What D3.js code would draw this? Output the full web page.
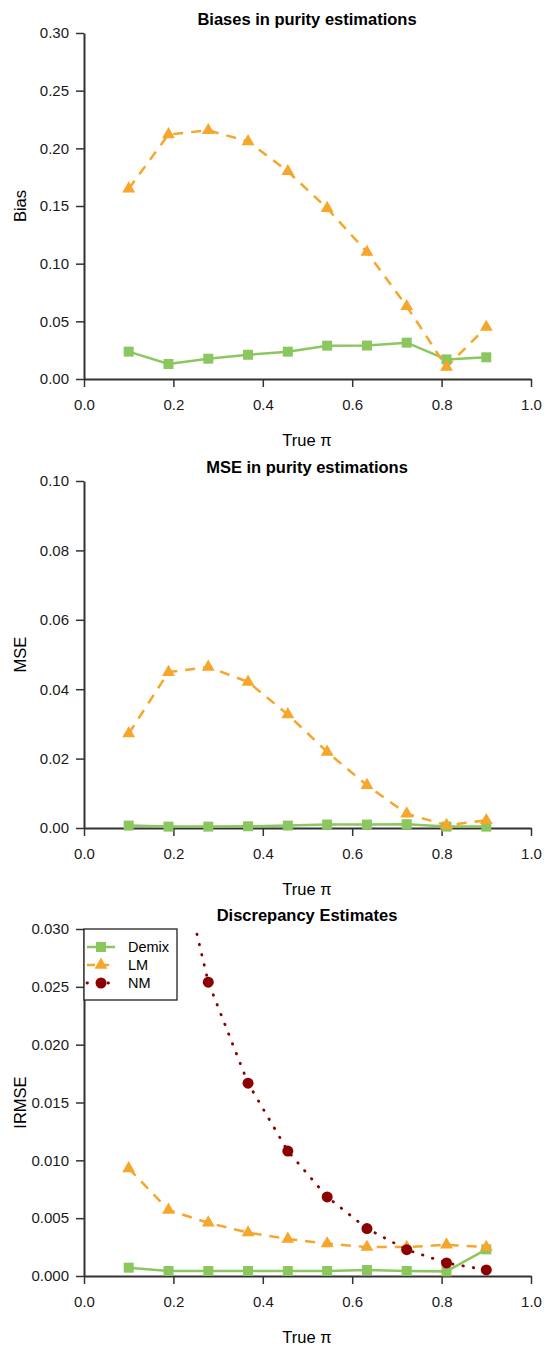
<!DOCTYPE html>
<html>
<head>
<meta charset="utf-8">
<script src="https://cdn.jsdelivr.net/npm/d3@7"></script>
<style>
  body { margin: 0; background: #fff; }
  svg { display: block; font-family: "Liberation Sans", Arial, sans-serif; }
</style>
</head>
<body>
<div id="chart"></div>
<script>
// true purity values
const truePi = [0.1, 0.189, 0.278, 0.367, 0.456, 0.544, 0.633, 0.722, 0.811, 0.9];

// panel 1: bias
const biasDemix = [0.0237, 0.0130, 0.0176, 0.0210, 0.0237, 0.0289, 0.0290, 0.0315, 0.0170, 0.0188];
const biasLM = [0.165, 0.212, 0.2156, 0.206, 0.180, 0.148, 0.110, 0.063, 0.0104, 0.045];

// panel 2: MSE
const mseDemix = [0.0007, 0.0004, 0.0004, 0.0005, 0.0007, 0.0010, 0.0010, 0.0011, 0.0004, 0.0004];
const mseLM = [0.0272, 0.0449, 0.0464, 0.0421, 0.0327, 0.0219, 0.0123, 0.0041, 0.0008, 0.0022];

// panel 3: IRMSE
const irmseDemix = [0.00072, 0.00043, 0.00043, 0.00043, 0.00043, 0.00043, 0.00052, 0.00043, 0.00040, 0.0023];
const irmseLM = [0.0093, 0.0057, 0.0046, 0.00375, 0.0032, 0.0028, 0.0025, 0.0025, 0.0027, 0.0025];
const irmseNM = [0.058, 0.040, 0.0254, 0.01667, 0.0108, 0.00684, 0.0041, 0.00228, 0.00113, 0.00052];

const xTicks = [0, 0.2, 0.4, 0.6, 0.8, 1.0];
const legendNames = ['Demix', 'LM', 'NM'];

const colors = { Demix: '#8cc65f', LM: '#f5a62b', NM: '#8b0000' };
const dashes = { Demix: null, LM: '10,8', NM: '0.5,10' };

const width = 544, height = 1349;
const svg = d3.select('#chart').append('svg')
    .attr('width', width)
    .attr('height', height);

const x = d3.scaleLinear().domain([0, 1]).range([84, 531]);

const panels = [
    { title: 'Biases in purity estimations', ylab: 'Bias', top: 33, bottom: 379,
      ymax: 0.30, yTicks: d3.range(0, 0.301, 0.05), fmt: d3.format('.2f'),
      series: [['Demix', biasDemix], ['LM', biasLM]] },
    { title: 'MSE in purity estimations', ylab: 'MSE', top: 481, bottom: 828,
      ymax: 0.10, yTicks: d3.range(0, 0.101, 0.02), fmt: d3.format('.2f'),
      series: [['Demix', mseDemix], ['LM', mseLM]] },
    { title: 'Discrepancy Estimates', ylab: 'IRMSE', top: 929, bottom: 1276,
      ymax: 0.030, yTicks: d3.range(0, 0.0301, 0.005), fmt: d3.format('.3f'),
      series: [['Demix', irmseDemix], ['LM', irmseLM], ['NM', irmseNM]], legend: true }
];

function drawMarker(g, name, cx, cy) {
    if (name === 'Demix') {
        g.append('rect')
            .attr('x', cx - 5).attr('y', cy - 5)
            .attr('width', 10).attr('height', 10)
            .attr('fill', colors.Demix);
    } else if (name === 'LM') {
        g.append('path')
            .attr('d', d3.symbol(d3.symbolTriangle, 72)())
            .attr('transform', `translate(${cx},${cy})`)
            .attr('fill', colors.LM);
    } else {
        g.append('circle')
            .attr('cx', cx).attr('cy', cy).attr('r', 5.5)
            .attr('fill', colors.NM);
    }
}

panels.forEach((p, i) => {
    const y = d3.scaleLinear().domain([0, p.ymax]).range([p.bottom, p.top]);
    const g = svg.append('g');

    // clip to the plot region
    const clipId = 'clip' + i;
    svg.append('clipPath').attr('id', clipId)
        .append('rect')
        .attr('x', 60).attr('y', p.top)
        .attr('width', 484).attr('height', p.bottom - p.top + 20);

    // axes
    const yAxis = g.append('g')
        .attr('transform', `translate(${x(0)},0)`)
        .call(d3.axisLeft(y).tickValues(p.yTicks).tickFormat(p.fmt).tickSize(8).tickPadding(7).tickSizeOuter(0));
    const xAxis = g.append('g')
        .attr('transform', `translate(0,${p.bottom})`)
        .call(d3.axisBottom(x).tickValues(xTicks).tickFormat(d3.format('.1f')).tickSize(8).tickPadding(12).tickSizeOuter(0));
    [xAxis, yAxis].forEach(a => {
        a.attr('font-size', 15).attr('font-family', '"Liberation Sans", Arial, sans-serif');
        a.select('.domain').attr('stroke', '#333').attr('stroke-width', 2);
        a.selectAll('.tick line').attr('stroke', '#333').attr('stroke-width', 1.5);
        a.selectAll('.tick text').attr('fill', '#1a1a1a');
    });

    g.append('text')
        .attr('x', 307).attr('y', p.top - 8)
        .attr('text-anchor', 'middle')
        .attr('font-size', 16.5).attr('font-weight', 'bold')
        .text(p.title);

    g.append('text')
        .attr('x', 307).attr('y', p.bottom + 67)
        .attr('text-anchor', 'middle')
        .attr('font-size', 16.5)
        .text('True π');

    g.append('text')
        .attr('transform', `translate(26,${(p.top + p.bottom) / 2}) rotate(-90)`)
        .attr('text-anchor', 'middle')
        .attr('font-size', 16.5)
        .text(p.ylab);

    const line = d3.line().x((d, j) => x(truePi[j])).y(d => y(d));
    const plot = g.append('g').attr('clip-path', `url(#${clipId})`);

    p.series.forEach(([name, vals]) => {
        plot.append('path')
            .datum(vals)
            .attr('fill', 'none')
            .attr('stroke', colors[name])
            .attr('stroke-width', name === 'NM' ? 2.8 : 2.5)
            .attr('stroke-dasharray', dashes[name])
            .attr('stroke-linecap', name === 'NM' ? 'round' : 'butt')
            .attr('d', line);
    });
    p.series.forEach(([name, vals]) => {
        vals.forEach((v, j) => {
            if (v <= p.ymax) drawMarker(plot, name, x(truePi[j]), y(v));
        });
    });

    if (p.legend) {
        const lg = g.append('g');
        lg.append('rect')
            .attr('x', 84).attr('y', p.top)
            .attr('width', 93).attr('height', 71)
            .attr('fill', '#fff').attr('stroke', '#222').attr('stroke-width', 1.3);
        legendNames.forEach((name, k) => {
            const ly = p.top + 18 + k * 18;
            lg.append('line')
                .attr('x1', 87).attr('x2', 115)
                .attr('y1', ly).attr('y2', ly)
                .attr('stroke', colors[name]).attr('stroke-width', name === 'NM' ? 2.8 : 2.5)
                .attr('stroke-dasharray', name === 'LM' ? '8,6' : name === 'NM' ? '0.5,10' : null)
                .attr('stroke-linecap', name === 'NM' ? 'round' : 'butt');
            drawMarker(lg, name, 101, ly);
            lg.append('text')
                .attr('x', 128).attr('y', ly + 5)
                .attr('font-size', 14.5)
                .text(name);
        });
    }
});
</script>
</body>
</html>
